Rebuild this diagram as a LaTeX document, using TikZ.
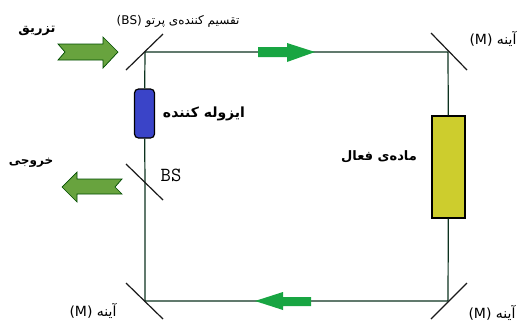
\documentclass[tikz,border=0pt]{standalone}
\usepackage{fontspec}
\usepackage{tikz}
\TeXXeTstate=1
\newfontfamily\farsifont[Script=Arabic]{DejaVu Sans}
\definecolor{beamgreen}{RGB}{24,165,66}
\definecolor{linegreen}{RGB}{12,50,30}
\definecolor{ioarrow}{RGB}{104,163,62}
\definecolor{isoblue}{RGB}{58,68,200}
\definecolor{gainyellow}{RGB}{205,205,45}
\tikzset{
  mirror/.style={line width=1.2pt,black!90},
  beam/.style={line width=1.2pt,linegreen},
  pulse/.style={fill=beamgreen,draw=none},
  iobeam/.style={fill=ioarrow,draw=black!70!green,line width=0.7pt},
  farsi/.style={font=\farsifont\fontsize{#1}{#1}\selectfont,inner sep=0pt},
  farsib/.style={font=\farsifont\bfseries\fontsize{#1}{#1}\selectfont,inner sep=0pt}
}
\begin{document}
\begin{tikzpicture}[x=1pt,y=-1pt]
      \useasboundingbox (0,0) rectangle (522,322);
      %corners
      \coordinate (bsin) at (145,52);
      \coordinate (mtr) at (448,52);
      \coordinate (mbr) at (448,301);
      \coordinate (mbl) at (145,301);
      \coordinate (bsout) at (145,183);
      %beam
      \node[draw=black,line width=1.2pt,fill=isoblue,rounded corners=4pt,minimum width=20pt,minimum height=49pt,inner sep=0pt] (iso) at (144.5,113.5) {};
      \node[draw=black,line width=1.4pt,fill=gainyellow,minimum width=33pt,minimum height=102pt,inner sep=0pt] (gain) at (448.5,167) {};
      \draw[beam] (bsin) -- (mtr) -- (gain);
      \draw[beam] (gain) -- (mbr) -- (mbl) -- (bsout) -- (iso) -- (bsin);
      %mirrors
      \draw[mirror] (126,70) -- (163,34);
      \draw[mirror] (431,33) -- (467,70);
      \draw[mirror] (126,283) -- (163,319);
      \draw[mirror] (431,319) -- (467,283);
      \draw[mirror] (126,164) -- (163,200);
      %pulses
      \fill[pulse] (258,47) -- (287,47) -- (287,43) -- (315,52) -- (287,62) -- (287,57) -- (258,57) -- cycle;
      \fill[pulse] (311,297) -- (283,297) -- (283,292) -- (255,301) -- (283,310) -- (283,306) -- (311,306) -- cycle;
      %in and out
      \draw[iobeam] (58,44) -- (103,44) -- (103,37) -- (118,52) -- (103,68) -- (103,60) -- (58,60) -- (65,52) -- cycle;
      \draw[iobeam] (122,179) -- (77,179) -- (77,172) -- (62,187) -- (77,202) -- (77,194) -- (122,194) -- (115,187) -- cycle;
      %labels
      \node[farsib=13] (injl) at (37,31) {\beginR تزریق\endR};
      \node[farsi=12] (bsl) at (178,21) {\beginR تقسیم کننده‌ی پرتو \beginL(BS)\endL\endR};
      \node[farsib=14] (isol) at (204,114) {\beginR ایزوله کننده\endR};
      \node[farsib=12] (outl) at (31,163) {\beginR خروجی\endR};
      \node[farsib=13] (gainl) at (379,157) {\beginR ماده‌ی فعال\endR};
      \node[font=\ttfamily\fontsize{20}{20}\selectfont,inner sep=0pt] (bsm) at (171,175) {BS};
      \node[farsi=14] (mtrl) at (493,39) {\beginR آینه \beginL(M)\endL\endR};
      \node[farsi=14] (mbll) at (93,311) {\beginR آینه \beginL(M)\endL\endR};
      \node[farsi=14] (mbrl) at (492,313) {\beginR آینه \beginL(M)\endL\endR};
\end{tikzpicture}
\end{document}
